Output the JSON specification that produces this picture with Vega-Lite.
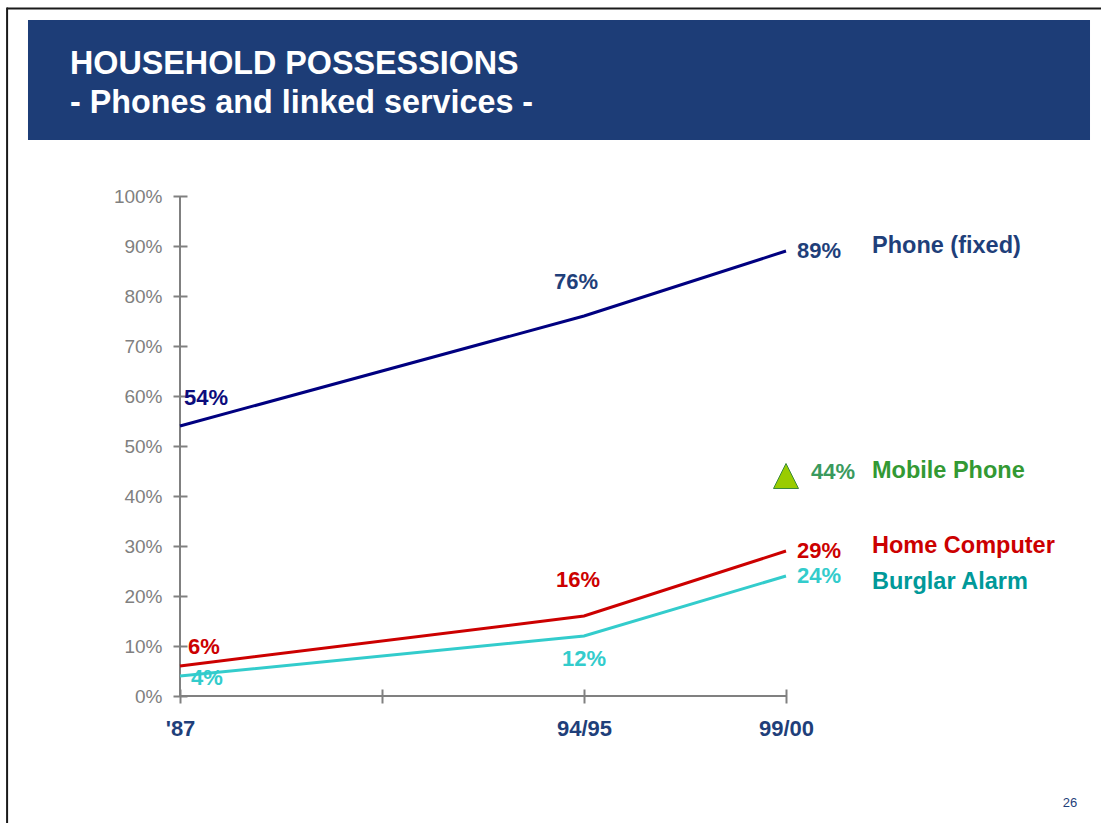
{
  "$schema": "https://vega.github.io/schema/vega-lite/v6.json",
  "width": 606,
  "height": 500,
  "autosize": {"type": "none"},
  "padding": {"left": 180, "top": 196, "right": 315, "bottom": 127},
  "background": "white",
  "config": {"view": {"stroke": null}, "axis": {"titleOpacity": 0}},
  "datasets": {
    "survey": [
      {"series": "Phone (fixed)", "t": 0, "share": 0.54},
      {"series": "Phone (fixed)", "t": 2, "share": 0.76},
      {"series": "Phone (fixed)", "t": 3, "share": 0.89},
      {"series": "Home Computer", "t": 0, "share": 0.06},
      {"series": "Home Computer", "t": 2, "share": 0.16},
      {"series": "Home Computer", "t": 3, "share": 0.29},
      {"series": "Burglar Alarm", "t": 0, "share": 0.04},
      {"series": "Burglar Alarm", "t": 2, "share": 0.12},
      {"series": "Burglar Alarm", "t": 3, "share": 0.24},
      {"series": "Mobile Phone", "t": 3, "share": 0.44}
    ]
  },
  "data": {"name": "survey"},
  "layer": [
    {
      "data": {"values": [{}]},
      "mark": {"type": "rule", "color": "#1a1a1a", "strokeWidth": 2},
      "encoding": {
        "x": {"datum": -0.856, "type": "quantitative"},
        "x2": {"datum": 4.7},
        "y": {"datum": 1.375, "type": "quantitative"}
      }
    },
    {
      "data": {"values": [{}]},
      "mark": {"type": "rule", "color": "#1a1a1a", "strokeWidth": 2},
      "encoding": {
        "x": {"datum": -0.856, "type": "quantitative"},
        "y": {"datum": 1.377, "type": "quantitative"},
        "y2": {"datum": -0.4}
      }
    },
    {
      "data": {"values": [{}]},
      "mark": {"type": "rect", "color": "#1d3d77"},
      "encoding": {
        "x": {"datum": -0.7525, "type": "quantitative"},
        "x2": {"datum": 4.505},
        "y": {"datum": 1.352, "type": "quantitative"},
        "y2": {"datum": 1.112}
      }
    },
    {
      "data": {"values": [{"line": "HOUSEHOLD POSSESSIONS"}]},
      "mark": {"type": "text", "align": "left", "baseline": "alphabetic", "font": "Liberation Sans", "fontWeight": "bold", "fontSize": 32.3, "color": "#ffffff"},
      "encoding": {
        "x": {"datum": -0.5446, "type": "quantitative"},
        "y": {"datum": 1.245, "type": "quantitative"},
        "text": {"field": "line"}
      }
    },
    {
      "data": {"values": [{"line": "- Phones and linked services -"}]},
      "mark": {"type": "text", "align": "left", "baseline": "alphabetic", "font": "Liberation Sans", "fontWeight": "bold", "fontSize": 32.3, "color": "#ffffff"},
      "encoding": {
        "x": {"datum": -0.5446, "type": "quantitative"},
        "y": {"datum": 1.167, "type": "quantitative"},
        "text": {"field": "line"}
      }
    },
    {
      "data": {"values": [{}]},
      "mark": {"type": "rule", "color": "#808080", "strokeWidth": 2},
      "encoding": {
        "x": {"datum": 0, "type": "quantitative"},
        "y": {"datum": 0, "type": "quantitative"},
        "y2": {"datum": 1}
      }
    },
    {
      "data": {"values": [{}]},
      "mark": {"type": "rule", "color": "#808080", "strokeWidth": 2},
      "encoding": {
        "y": {"datum": 0, "type": "quantitative"},
        "x": {"datum": 0, "type": "quantitative"},
        "x2": {"datum": 3}
      }
    },
    {
      "transform": [{"filter": "datum.series != 'Mobile Phone'"}],
      "mark": {"type": "line", "strokeWidth": 3},
      "encoding": {
        "x": {
          "field": "t", "type": "quantitative", "title": null,
          "scale": {"domain": [0, 3], "nice": false, "zero": false},
          "axis": {
            "orient": "bottom", "offset": -7, "tickSize": 14, "domain": false, "grid": false,
            "values": [0, 1, 2, 3],
            "labelExpr": "datum.value == 0 ? \"'87\" : datum.value == 2 ? '94/95' : datum.value == 3 ? '99/00' : ''",
            "labelFont": "Liberation Sans", "labelFontWeight": "bold", "labelFontSize": 22,
            "labelColor": "#1f3f7a", "tickColor": "#808080", "tickWidth": 2,
            "labelPadding": 15, "labelFlush": false, "labelOverlap": false
          }
        },
        "y": {
          "field": "share", "type": "quantitative", "title": null,
          "scale": {"domain": [0, 1], "nice": false},
          "axis": {
            "orient": "left", "offset": -7, "tickSize": 14, "domain": false, "grid": false,
            "values": [0, 0.1, 0.2, 0.3, 0.4, 0.5, 0.6, 0.7, 0.8, 0.9, 1],
            "format": ".0%",
            "labelFont": "Liberation Sans", "labelFontSize": 19, "labelColor": "#808080",
            "tickColor": "#808080", "tickWidth": 2, "labelPadding": 11,
            "labelFlush": false, "labelOverlap": false
          }
        },
        "color": {
          "field": "series", "type": "nominal", "legend": null,
          "scale": {"domain": ["Phone (fixed)", "Home Computer", "Burglar Alarm"], "range": ["#000080", "#cc0000", "#33cccc"]}
        }
      }
    },
    {
      "transform": [{"filter": "datum.series == 'Mobile Phone'"}],
      "mark": {"type": "point", "shape": "M-1,1L1,1L0,-1Z", "size": 625, "filled": true, "fill": "#99cc00", "stroke": "#3a8a3a", "strokeWidth": 1, "opacity": 1},
      "encoding": {
        "x": {"field": "t", "type": "quantitative"},
        "y": {"field": "share", "type": "quantitative"}
      }
    },
    {
      "transform": [{"filter": "datum.t == 3 && datum.series == 'Phone (fixed)'"}],
      "mark": {"type": "text", "align": "left", "baseline": "middle", "dx": 11, "font": "Liberation Sans", "fontWeight": "bold", "fontSize": 22, "color": "#1f3f7a"},
      "encoding": {
        "x": {"field": "t", "type": "quantitative"},
        "y": {"field": "share", "type": "quantitative"},
        "text": {"field": "share", "format": ".0%"}
      }
    },
    {
      "transform": [{"filter": "datum.t == 3 && datum.series == 'Home Computer'"}],
      "mark": {"type": "text", "align": "left", "baseline": "middle", "dx": 11, "font": "Liberation Sans", "fontWeight": "bold", "fontSize": 22, "color": "#cc0000"},
      "encoding": {
        "x": {"field": "t", "type": "quantitative"},
        "y": {"field": "share", "type": "quantitative"},
        "text": {"field": "share", "format": ".0%"}
      }
    },
    {
      "transform": [{"filter": "datum.t == 3 && datum.series == 'Burglar Alarm'"}],
      "mark": {"type": "text", "align": "left", "baseline": "middle", "dx": 11, "font": "Liberation Sans", "fontWeight": "bold", "fontSize": 22, "color": "#33cccc"},
      "encoding": {
        "x": {"field": "t", "type": "quantitative"},
        "y": {"field": "share", "type": "quantitative"},
        "text": {"field": "share", "format": ".0%"}
      }
    },
    {
      "transform": [{"filter": "datum.series == 'Mobile Phone'"}],
      "mark": {"type": "text", "align": "left", "baseline": "middle", "dx": 25, "dy": -4, "font": "Liberation Sans", "fontWeight": "bold", "fontSize": 22, "color": "#3a9a5e"},
      "encoding": {
        "x": {"field": "t", "type": "quantitative"},
        "y": {"field": "share", "type": "quantitative"},
        "text": {"field": "share", "format": ".0%"}
      }
    },
    {
      "transform": [{"filter": "datum.t == 2 && datum.series == 'Phone (fixed)'"}],
      "mark": {"type": "text", "align": "center", "baseline": "middle", "dx": -8, "dy": -34, "font": "Liberation Sans", "fontWeight": "bold", "fontSize": 22, "color": "#1f3f7a"},
      "encoding": {
        "x": {"field": "t", "type": "quantitative"},
        "y": {"field": "share", "type": "quantitative"},
        "text": {"field": "share", "format": ".0%"}
      }
    },
    {
      "transform": [{"filter": "datum.t == 2 && datum.series == 'Home Computer'"}],
      "mark": {"type": "text", "align": "center", "baseline": "middle", "dx": -6, "dy": -36, "font": "Liberation Sans", "fontWeight": "bold", "fontSize": 22, "color": "#cc0000"},
      "encoding": {
        "x": {"field": "t", "type": "quantitative"},
        "y": {"field": "share", "type": "quantitative"},
        "text": {"field": "share", "format": ".0%"}
      }
    },
    {
      "transform": [{"filter": "datum.t == 2 && datum.series == 'Burglar Alarm'"}],
      "mark": {"type": "text", "align": "center", "baseline": "middle", "dx": 0, "dy": 23, "font": "Liberation Sans", "fontWeight": "bold", "fontSize": 22, "color": "#33cccc"},
      "encoding": {
        "x": {"field": "t", "type": "quantitative"},
        "y": {"field": "share", "type": "quantitative"},
        "text": {"field": "share", "format": ".0%"}
      }
    },
    {
      "transform": [{"filter": "datum.t == 0 && datum.series == 'Phone (fixed)'"}],
      "mark": {"type": "text", "align": "left", "baseline": "middle", "dx": 4, "dy": -28, "font": "Liberation Sans", "fontWeight": "bold", "fontSize": 22, "color": "#0c0c7c"},
      "encoding": {
        "x": {"field": "t", "type": "quantitative"},
        "y": {"field": "share", "type": "quantitative"},
        "text": {"field": "share", "format": ".0%"}
      }
    },
    {
      "transform": [{"filter": "datum.t == 0 && datum.series == 'Home Computer'"}],
      "mark": {"type": "text", "align": "left", "baseline": "middle", "dx": 8, "dy": -19, "font": "Liberation Sans", "fontWeight": "bold", "fontSize": 22, "color": "#cc0000"},
      "encoding": {
        "x": {"field": "t", "type": "quantitative"},
        "y": {"field": "share", "type": "quantitative"},
        "text": {"field": "share", "format": ".0%"}
      }
    },
    {
      "transform": [{"filter": "datum.t == 0 && datum.series == 'Burglar Alarm'"}],
      "mark": {"type": "text", "align": "left", "baseline": "middle", "dx": 11, "dy": 2, "font": "Liberation Sans", "fontWeight": "bold", "fontSize": 22, "color": "#33cccc"},
      "encoding": {
        "x": {"field": "t", "type": "quantitative"},
        "y": {"field": "share", "type": "quantitative"},
        "text": {"field": "share", "format": ".0%"}
      }
    },
    {
      "transform": [{"filter": "datum.t == 3 && datum.series == 'Phone (fixed)'"}],
      "mark": {"type": "text", "align": "left", "baseline": "middle", "dx": 86, "dy": -5, "font": "Liberation Sans", "fontWeight": "bold", "fontSize": 23.5, "color": "#1f3f7a"},
      "encoding": {
        "x": {"field": "t", "type": "quantitative"},
        "y": {"field": "share", "type": "quantitative"},
        "text": {"field": "series"}
      }
    },
    {
      "transform": [{"filter": "datum.series == 'Mobile Phone'"}],
      "mark": {"type": "text", "align": "left", "baseline": "middle", "dx": 86, "dy": -5, "font": "Liberation Sans", "fontWeight": "bold", "fontSize": 23.5, "color": "#339933"},
      "encoding": {
        "x": {"field": "t", "type": "quantitative"},
        "y": {"field": "share", "type": "quantitative"},
        "text": {"field": "series"}
      }
    },
    {
      "transform": [{"filter": "datum.t == 3 && datum.series == 'Home Computer'"}],
      "mark": {"type": "text", "align": "left", "baseline": "middle", "dx": 86, "dy": -5, "font": "Liberation Sans", "fontWeight": "bold", "fontSize": 23.5, "color": "#cc0000"},
      "encoding": {
        "x": {"field": "t", "type": "quantitative"},
        "y": {"field": "share", "type": "quantitative"},
        "text": {"field": "series"}
      }
    },
    {
      "transform": [{"filter": "datum.t == 3 && datum.series == 'Burglar Alarm'"}],
      "mark": {"type": "text", "align": "left", "baseline": "middle", "dx": 86, "dy": 6, "font": "Liberation Sans", "fontWeight": "bold", "fontSize": 23.5, "color": "#009999"},
      "encoding": {
        "x": {"field": "t", "type": "quantitative"},
        "y": {"field": "share", "type": "quantitative"},
        "text": {"field": "series"}
      }
    },
    {
      "data": {"values": [{"page": "26"}]},
      "mark": {"type": "text", "align": "center", "baseline": "alphabetic", "font": "Liberation Sans", "fontSize": 13, "color": "#1f3f7a"},
      "encoding": {
        "x": {"datum": 4.406, "type": "quantitative"},
        "y": {"datum": -0.222, "type": "quantitative"},
        "text": {"field": "page"}
      }
    }
  ]
}
